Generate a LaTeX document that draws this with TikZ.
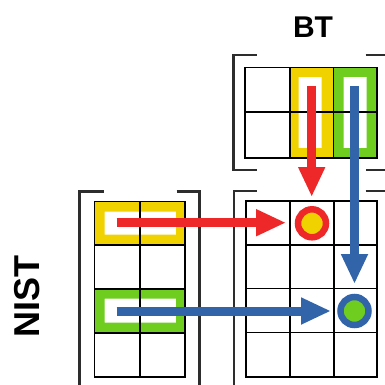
\documentclass[tikz,border=0pt]{standalone}
\usepackage{fontspec}
\setmainfont{Liberation Sans}
\usetikzlibrary{arrows.meta}
\definecolor{hlyellow}{RGB}{240,210,0}
\definecolor{hlgreen}{RGB}{110,205,30}
\definecolor{arrred}{RGB}{238,40,40}
\definecolor{arrblue}{RGB}{50,100,170}
\definecolor{brk}{RGB}{45,45,45}
\tikzset{
  x=1pt, y=-1pt,
  gridline/.style={line width=1.9pt, black},
  bracketline/.style={line width=2.3pt, brk},
  flow/.style={line width=9pt, -{Triangle[length=30pt,width=25pt]}},
  hit/.style={circle, minimum size=28pt, inner sep=0pt, line width=6.5pt},
  label/.style={font=\bfseries, inner sep=0pt},
}
\begin{document}
\begin{tikzpicture}
\clip (0,0) rectangle (385,385);
\fill[white] (0,0) rectangle (385,385);

% labels
\node[label, font=\bfseries\fontsize{30}{30}\selectfont] (bt) at (313,27.5) {BT};
\node[label, font=\bfseries\fontsize{36}{36}\selectfont, rotate=90] (nist) at (27,296.5) {NIST};

% highlighted column / row frames (yellow and green)
\fill[hlyellow, even odd rule] (290,67.5) rectangle (333.5,158) (298.5,77) rectangle (321.5,148);
\fill[hlgreen, even odd rule] (333.5,67.5) rectangle (377,158) (343.5,77) rectangle (366.5,148);
\fill[hlyellow, even odd rule] (94.5,201.5) rectangle (185,245) (104.5,211.5) rectangle (176,234.5);
\fill[hlgreen, even odd rule] (94.5,289) rectangle (185,333) (104.5,298.5) rectangle (176,322.5);

% BT matrix: 2 x 3
\draw[gridline] (245,67.5) rectangle (377,158);
\draw[gridline] (245,112) -- (377,112);
\draw[gridline] (290,67.5) -- (290,158) (333.5,67.5) -- (333.5,158);
\draw[bracketline] (256.5,55) -- (233.5,55) -- (233.5,170) -- (256.5,170);
\draw[bracketline] (365.5,55) -- (388,55) -- (388,170) -- (365.5,170);

% NIST matrix: 4 x 2
\draw[gridline] (94.5,201.5) rectangle (185,377);
\draw[gridline] (140,201.5) -- (140,377);
\draw[gridline] (94.5,245) -- (185,245) (94.5,289) -- (185,289) (94.5,333) -- (185,333);
\draw[bracketline] (103.5,191.5) -- (79.5,191.5) -- (79.5,400);
\draw[bracketline] (176.5,191.5) -- (199.5,191.5) -- (199.5,400);

% result matrix: 4 x 3
\draw[gridline] (246,201) rectangle (377,377);
\draw[gridline] (290,201) -- (290,377) (334,201) -- (334,377);
\draw[gridline] (246,245) -- (377,245) (246,288.5) -- (377,288.5) (246,332.5) -- (377,332.5);
\draw[bracketline] (256.5,191) -- (234,191) -- (234,400);
\draw[bracketline] (365.5,191) -- (388,191) -- (388,400);

% arrow end points
\coordinate (btY) at (311.7,86);
\coordinate (btYend) at (311.7,197);
\coordinate (btG) at (354.5,86);
\coordinate (btGend) at (354.5,284);
\coordinate (nsY) at (116.5,222.7);
\coordinate (nsYend) at (286,222.7);
\coordinate (nsG) at (116.5,311);
\coordinate (nsGend) at (331,311);

\draw[flow, arrred] (btY) -- (btYend);
\draw[flow, arrblue] (btG) -- (btGend);
\draw[flow, arrred] (nsY) -- (nsYend);
\draw[flow, arrblue] (nsG) -- (nsGend);

% matched entries
\node[hit, draw=arrred, fill=hlyellow] (hitY) at (312,223.3) {};
\node[hit, draw=arrblue, fill=hlgreen] (hitG) at (354.5,311) {};
\end{tikzpicture}
\end{document}
